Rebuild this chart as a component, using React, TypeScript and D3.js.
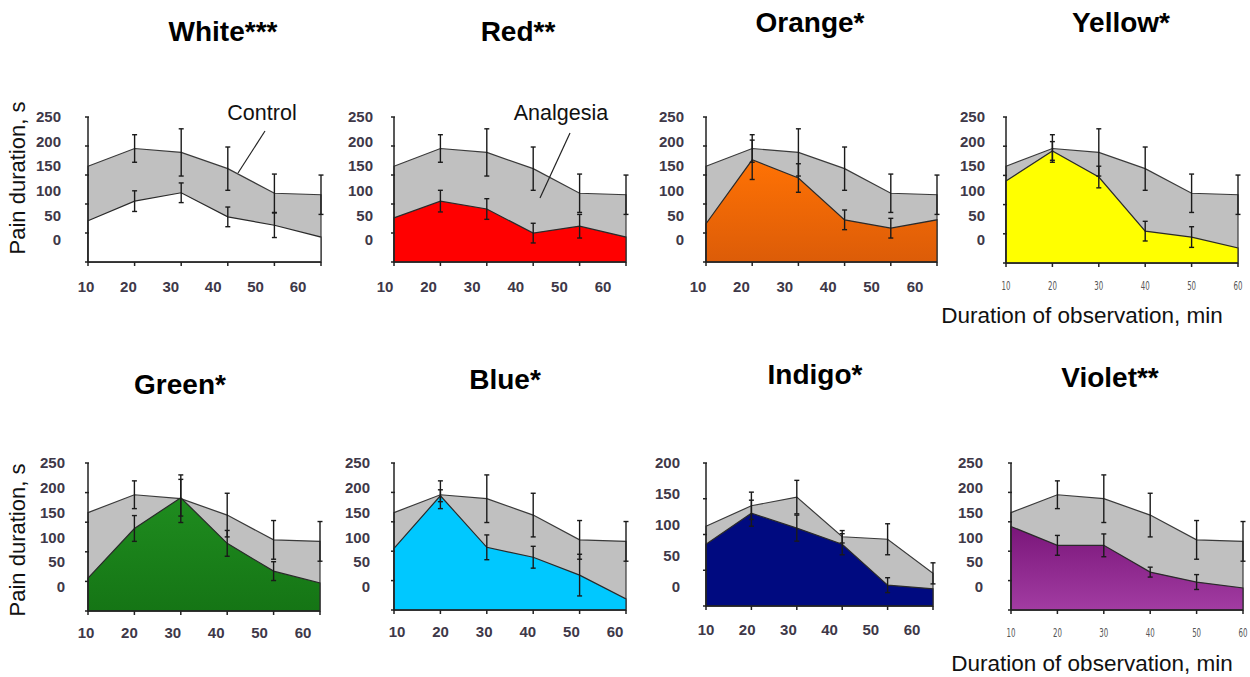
import React from 'react'
import * as d3 from 'd3'

// minutes of observation and axis tick labels
const minutes = [10, 20, 30, 40, 50, 60]
const yTicks250 = [0, 50, 100, 150, 200, 250]
const yTicks200 = [0, 50, 100, 150, 200]

// control group (grey area), pain duration in s
const control = [150, 186, 178, 145, 95, 92]
const controlErr = [0, 28, 48, 44, 39, 40]
const controlIndigo = [98, 131, 145, 81, 77, 22]
const controlIndigoErr = [0, 22, 27, 10, 25, 17]

// analgesia groups by light colour
const white = [39, 79, 96, 47, 30, 6]
const whiteErr = [0, 21, 20, 20, 25, 0]
const red = [45, 79, 63, 14, 28, 6]
const redErr = [0, 22, 21, 20, 24, 0]
const orange = [33, 163, 126, 41, 24, 41]
const orangeErr = [0, 40, 29, 20, 20, 0]
const yellow = [120, 181, 128, 18, 6, -16]
const yellowErr = [0, 19, 22, 20, 21, 0]
const green = [18, 118, 180, 88, 32, 8]
const greenErr = [0, 26, 37, 26, 19, 0]
const blue = [78, 184, 80, 60, 24, -24]
const blueErr = [0, 12, 25, 22, 42, 0]
const indigo = [69, 119, 95, 69, 3, -3]
const indigoErr = [0, 21, 21, 17, 12, 0]
const violet = [122, 84, 84, 30, 10, -2]
const violetErr = [0, 20, 23, 10, 15, 0]

const FONT = '"Liberation Sans", Arial, sans-serif'
const LABEL = '#3e3848'

const panels = [
  { id: 'white', title: 'White***', tx: 223, ty: 41, left: 88, right: 321, top: 117, bottom: 262, zero: 240, labelRight: 61, xl: [86, 298], xly: 292, ticks: yTicks250, ctrl: control, ctrlErr: controlErr, vals: white, errs: whiteErr, fill: '#ffffff' },
  { id: 'red', title: 'Red**', tx: 518, ty: 41, left: 394, right: 626, top: 117, bottom: 262, zero: 240, labelRight: 373, xl: [385, 603], xly: 292, ticks: yTicks250, ctrl: control, ctrlErr: controlErr, vals: red, errs: redErr, fill: '#ff0000' },
  { id: 'orange', title: 'Orange*', tx: 810, ty: 32, left: 706, right: 937, top: 117, bottom: 262, zero: 240, labelRight: 684, xl: [698, 915], xly: 292, ticks: yTicks250, ctrl: control, ctrlErr: controlErr, vals: orange, errs: orangeErr, fill: 'url(#g-orange)' },
  { id: 'yellow', title: 'Yellow*', tx: 1121, ty: 32, left: 1006, right: 1238, top: 117, bottom: 263, zero: 240, labelRight: 985, xl: [1006, 1238], xly: 290, narrow: true, ticks: yTicks250, ctrl: control, ctrlErr: controlErr, vals: yellow, errs: yellowErr, fill: '#ffff00' },
  { id: 'green', title: 'Green*', tx: 180, ty: 394, left: 88, right: 320, top: 463, bottom: 611, zero: 587, labelRight: 65, xl: [86, 303], xly: 638, ticks: yTicks250, ctrl: control, ctrlErr: controlErr, vals: green, errs: greenErr, fill: 'url(#g-green)' },
  { id: 'blue', title: 'Blue*', tx: 505, ty: 389, left: 394, right: 626, top: 463, bottom: 610, zero: 587, labelRight: 370, xl: [397, 615], xly: 637, ticks: yTicks250, ctrl: control, ctrlErr: controlErr, vals: blue, errs: blueErr, fill: '#00c8ff' },
  { id: 'indigo', title: 'Indigo*', tx: 815, ty: 384, left: 706, right: 933, top: 463, bottom: 606, zero: 587, labelRight: 680, xl: [706, 912], xly: 635, ticks: yTicks200, ctrl: controlIndigo, ctrlErr: controlIndigoErr, vals: indigo, errs: indigoErr, fill: '#000a80' },
  { id: 'violet', title: 'Violet**', tx: 1110, ty: 387, left: 1011, right: 1243, top: 463, bottom: 610, zero: 587, labelRight: 983, xl: [1011, 1243], xly: 637, narrow: true, ticks: yTicks250, ctrl: control, ctrlErr: controlErr, vals: violet, errs: violetErr, fill: 'url(#g-violet)' },
]

function ErrorBars({ vals, errs, x, y }) {
  return (
    <g stroke="#1a1a1a" strokeWidth={1.4}>
      {vals.map((v, i) => {
        if (!errs[i]) return null
        const cx = x(minutes[i])
        const y1 = y(v + errs[i])
        const y2 = y(v - errs[i])
        return (
          <g key={i}>
            <line x1={cx} x2={cx} y1={y1} y2={y2} />
            <line x1={cx - 2.5} x2={cx + 2.5} y1={y1} y2={y1} />
            <line x1={cx - 2.5} x2={cx + 2.5} y1={y2} y2={y2} />
          </g>
        )
      })}
    </g>
  )
}

function Panel({ p }) {
  const x = d3.scaleLinear().domain([10, 60]).range([p.left, p.right])
  const xLab = d3.scalePoint().domain(minutes.map(String)).range(p.xl)
  const maxV = p.ticks[p.ticks.length - 1]
  const y = d3.scaleLinear().domain([0, maxV]).range([p.zero, p.top])

  const area = d3.area()
    .x((d, i) => x(minutes[i]))
    .y0(p.bottom)
    .y1(d => y(d))

  // evenly spaced tick marks along the y axis, one per label
  const tickYs = p.ticks.map((t, i) => p.bottom + (p.top - p.bottom) * i / (p.ticks.length - 1))

  return (
    <g>
      <text x={p.tx} y={p.ty} textAnchor="middle" fontFamily={FONT} fontWeight="bold" fontSize={28} fill="#000">{p.title}</text>

      <path d={area(p.ctrl)} fill="#c0c0c0" stroke="#3a3a3a" strokeWidth={1.2} />
      <path d={area(p.vals)} fill={p.fill} stroke="#2a2a2a" strokeWidth={1.2} />

      <ErrorBars vals={p.ctrl} errs={p.ctrlErr} x={x} y={y} />
      <ErrorBars vals={p.vals} errs={p.errs} x={x} y={y} />

      {/* axes */}
      <g stroke="#222" strokeWidth={1.5}>
        <line x1={p.left} x2={p.left} y1={p.top} y2={p.bottom} />
        <line x1={p.left} x2={p.right} y1={p.bottom} y2={p.bottom} />
        {tickYs.map((ty, i) => <line key={i} x1={p.left - 3} x2={p.left + 1} y1={ty} y2={ty} />)}
        {minutes.map(m => <line key={m} x1={x(m)} x2={x(m)} y1={p.bottom} y2={p.bottom + 4} />)}
      </g>

      {p.ticks.map(t => (
        <text key={t} x={p.labelRight} y={y(t)} dy="0.35em" textAnchor="end" fontFamily={FONT} fontWeight="bold" fontSize={15} fill={LABEL}>{t}</text>
      ))}

      {minutes.map(m => p.narrow ? (
        <text key={m} x={x(m)} y={p.xly} textAnchor="middle" fontFamily='"DejaVu Sans Condensed", "Liberation Sans Narrow", sans-serif' fontSize={13} fill="#555" transform={`translate(${x(m)},0) scale(0.6,1) translate(${-x(m)},0)`}>{m}</text>
      ) : (
        <text key={m} x={xLab(String(m))} y={p.xly} textAnchor="middle" fontFamily={FONT} fontWeight="bold" fontSize={15} fill={LABEL}>{m}</text>
      ))}
    </g>
  )
}

export default function App() {
  return (
    <svg width={1250} height={677} style={{ position: 'absolute', left: 0, top: 0, background: '#fff' }}>
      <defs>
        <linearGradient id="g-orange" x1="0" x2="0" y1="0" y2="1">
          <stop offset="0%" stopColor="#ff7204" />
          <stop offset="100%" stopColor="#dc5c08" />
        </linearGradient>
        <linearGradient id="g-green" x1="0" x2="0" y1="0" y2="1">
          <stop offset="0%" stopColor="#1f8c1f" />
          <stop offset="100%" stopColor="#157515" />
        </linearGradient>
        <linearGradient id="g-violet" x1="0" x2="0" y1="0" y2="1">
          <stop offset="0%" stopColor="#7a167a" />
          <stop offset="100%" stopColor="#a23ca2" />
        </linearGradient>
      </defs>
      <rect width={1250} height={677} fill="#fff" />

      {panels.map(p => <Panel key={p.id} p={p} />)}

      {/* annotations */}
      <text x={262} y={120} textAnchor="middle" fontFamily={FONT} fontSize={21.5} fill="#111">Control</text>
      <line x1={265} y1={131} x2={238} y2={173} stroke="#222" strokeWidth={1.2} />
      <text x={561} y={120} textAnchor="middle" fontFamily={FONT} fontSize={21.5} fill="#111">Analgesia</text>
      <line x1={570} y1={133} x2={540} y2={198} stroke="#222" strokeWidth={1.2} />

      <text transform="translate(25,178) rotate(-90)" textAnchor="middle" fontFamily={FONT} fontSize={22} fill="#111">Pain duration, s</text>
      <text transform="translate(25,540) rotate(-90)" textAnchor="middle" fontFamily={FONT} fontSize={22} fill="#111">Pain duration, s</text>

      <text x={1082} y={323} textAnchor="middle" fontFamily={FONT} fontSize={22.5} fill="#111">Duration of observation, min</text>
      <text x={1092} y={671} textAnchor="middle" fontFamily={FONT} fontSize={22.5} fill="#111">Duration of observation, min</text>
    </svg>
  )
}
